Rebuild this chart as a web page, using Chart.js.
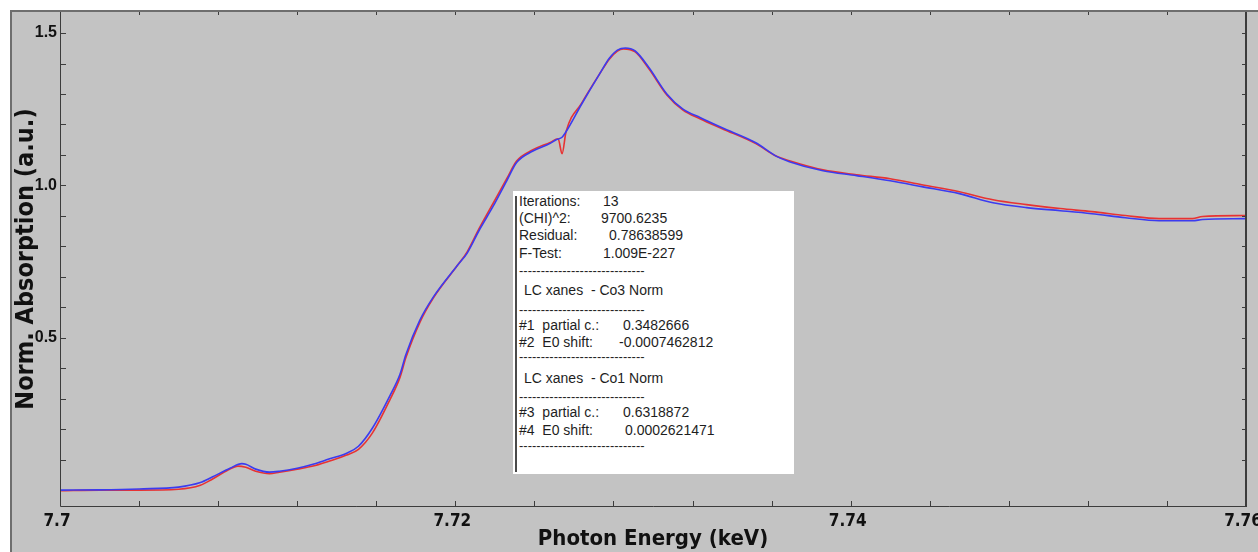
<!DOCTYPE html>
<html>
<head>
<meta charset="utf-8">
<title>XANES linear combination fit</title>
<script src="https://cdn.jsdelivr.net/npm/chart.js@4.4.0/dist/chart.umd.min.js"></script>
<style>
  html, body { margin: 0; padding: 0; background: #fff; }
  #wrap { position: relative; width: 1258px; height: 552px; overflow: hidden; }
  #fitBox {
    position: absolute; left: 513px; top: 191px; width: 281px; height: 283px;
    background: #fff; color: #1e1e1e;
    font: 14px 'Liberation Sans', Arial, sans-serif;
  }
  #fitBox .bar { position: absolute; left: 2px; top: 5px; width: 2px; height: 276px; background: #4a4a4a; }
  #fitBox .ln { position: absolute; left: 6px; white-space: pre; line-height: 15px; }
  #fitBox .v { position: absolute; white-space: pre; line-height: 15px; }
  #fitBox .dash { font-size: 13px; }
</style>
</head>
<body>
<div id="wrap">
  <canvas id="xanesChart" width="1258" height="552"></canvas>
  <div id="fitBox">
    <div class="bar"></div>
    <div class="ln" style="top:3px">Iterations:</div><div class="v" style="top:3px;left:90px">13</div>
    <div class="ln" style="top:20px">(CHI)^2:</div><div class="v" style="top:20px;left:88px">9700.6235</div>
    <div class="ln" style="top:37px">Residual:</div><div class="v" style="top:37px;left:96px">0.78638599</div>
    <div class="ln" style="top:55px">F-Test:</div><div class="v" style="top:55px;left:90px">1.009E-227</div>
    <div class="ln dash" style="top:72px">-----------------------------</div>
    <div class="ln" style="top:92px;left:11px">LC xanes  - Co3 Norm</div>
    <div class="ln dash" style="top:111px">-----------------------------</div>
    <div class="ln" style="top:127px">#1  partial c.:</div><div class="v" style="top:127px;left:110px">0.3482666</div>
    <div class="ln" style="top:144px">#2  E0 shift:</div><div class="v" style="top:144px;left:106px">-0.0007462812</div>
    <div class="ln dash" style="top:158px">-----------------------------</div>
    <div class="ln" style="top:180px;left:11px">LC xanes  - Co1 Norm</div>
    <div class="ln dash" style="top:198px">-----------------------------</div>
    <div class="ln" style="top:214px">#3  partial c.:</div><div class="v" style="top:214px;left:110px">0.6318872</div>
    <div class="ln" style="top:232px">#4  E0 shift:</div><div class="v" style="top:232px;left:112px">0.0002621471</div>
    <div class="ln dash" style="top:247px">-----------------------------</div>
  </div>
</div>
<script>
(function () {
  "use strict";

  /* ── Data ── */
  const fitEnergy = [7.7000, 7.7020, 7.7040, 7.7060, 7.7071, 7.7077, 7.7086, 7.7092, 7.7094, 7.7099,
    7.7106, 7.7111, 7.7120, 7.7128, 7.7136, 7.7145, 7.7151, 7.7158, 7.7167, 7.7172,
    7.7175, 7.7182, 7.7189, 7.7201, 7.7206, 7.7212, 7.7219, 7.7226, 7.7231, 7.7239,
    7.7248, 7.7251, 7.7254, 7.7256, 7.7264, 7.7273, 7.7278, 7.7282, 7.7286, 7.7291,
    7.7298, 7.7307, 7.7315, 7.7324, 7.7335, 7.7352, 7.7362, 7.7369, 7.7386, 7.7403,
    7.7420, 7.7436, 7.7455, 7.7472, 7.7489, 7.7506, 7.7522, 7.7539, 7.7556, 7.7573,
    7.7578, 7.7600];
  const fitAbs = [0.000, 0.001, 0.004, 0.010, 0.025, 0.043, 0.072, 0.087, 0.085, 0.069,
    0.059, 0.062, 0.072, 0.085, 0.102, 0.121, 0.144, 0.203, 0.311, 0.380,
    0.445, 0.557, 0.635, 0.737, 0.778, 0.852, 0.930, 1.015, 1.075, 1.112,
    1.138, 1.150, 1.158, 1.176, 1.268, 1.366, 1.418, 1.444, 1.451, 1.441,
    1.386, 1.300, 1.251, 1.222, 1.189, 1.140, 1.097, 1.078, 1.048, 1.032,
    1.015, 0.996, 0.973, 0.943, 0.927, 0.917, 0.907, 0.894, 0.884, 0.884,
    0.888, 0.891];

  const dataEnergy = [7.7000, 7.7020, 7.7040, 7.7060, 7.7071, 7.7077, 7.7085, 7.7090, 7.7094, 7.7099,
    7.7106, 7.7111, 7.7120, 7.7128, 7.7136, 7.7145, 7.7151, 7.7158, 7.7167, 7.7172,
    7.7175, 7.7182, 7.7189, 7.7201, 7.7206, 7.7212, 7.7219, 7.7226, 7.7231, 7.7239,
    7.7248, 7.7252, 7.7254, 7.7256, 7.7264, 7.7273, 7.7278, 7.7282, 7.7285, 7.7291,
    7.7298, 7.7307, 7.7315, 7.7324, 7.7335, 7.7352, 7.7362, 7.7369, 7.7386, 7.7403,
    7.7420, 7.7436, 7.7455, 7.7472, 7.7489, 7.7506, 7.7522, 7.7539, 7.7556, 7.7573,
    7.7578, 7.7600];
  const dataAbs = [-0.002, 0.000, 0.000, 0.003, 0.016, 0.036, 0.066, 0.079, 0.075, 0.062,
    0.054, 0.059, 0.069, 0.079, 0.095, 0.115, 0.134, 0.187, 0.298, 0.370,
    0.435, 0.550, 0.632, 0.737, 0.782, 0.858, 0.940, 1.022, 1.080, 1.116,
    1.141, 1.153, 1.104, 1.176, 1.271, 1.366, 1.415, 1.441, 1.448, 1.438,
    1.382, 1.297, 1.248, 1.218, 1.186, 1.137, 1.097, 1.081, 1.051, 1.035,
    1.022, 1.002, 0.979, 0.953, 0.937, 0.924, 0.914, 0.901, 0.891, 0.891,
    0.898, 0.901];

  const xRange = [7.7, 7.76];
  const xStep = 0.004;       // minor tick spacing
  const xLabelStep = 0.02;   // labelled ticks
  const yRange = [-0.052, 1.569];
  const yStep = 0.1;
  const yLabelStep = 0.5;

  function toPoints(xs, ys) { return xs.map((x, i) => ({ x: x, y: ys[i] })); }
  function isMultiple(v, step) { return Math.abs(v / step - Math.round(v / step)) < 1e-6; }

  const narrowBold = "'Liberation Sans Narrow', 'DejaVu Sans Condensed', Arial, sans-serif";

  /* ── Panel frame, axes and inward tick marks ── */
  const framePlugin = {
    id: 'frame',
    beforeDraw(chart) {
      const ctx = chart.ctx;
      ctx.save();
      ctx.fillStyle = '#ffffff';
      ctx.fillRect(0, 0, chart.width, chart.height);
      ctx.fillStyle = '#c3c3c3';
      ctx.fillRect(10, 10, chart.width - 10, chart.height - 10);
      ctx.fillStyle = '#6e6e6e';
      ctx.fillRect(10, 10, chart.width - 10, 2);
      ctx.fillRect(10, 10, 2, chart.height - 10);
      ctx.restore();
    },
    afterDatasetsDraw(chart) {
      const { ctx, chartArea: a, scales: { x, y } } = chart;
      ctx.save();
      ctx.strokeStyle = '#3c3c3c';
      ctx.lineWidth = 1;
      ctx.beginPath();
      ctx.moveTo(a.left + 0.5, a.top); ctx.lineTo(a.left + 0.5, a.bottom + 0.5);
      ctx.lineTo(a.right, a.bottom + 0.5);
      ctx.stroke();
      ctx.lineWidth = 2;
      ctx.beginPath();
      ctx.moveTo(a.right, a.top); ctx.lineTo(a.right, a.bottom + 1);
      ctx.stroke();

      ctx.lineWidth = 1;
      ctx.beginPath();
      x.ticks.forEach(t => {
        if (t.value <= xRange[0] + 1e-9 || t.value >= xRange[1] - 1e-9) return;
        const px = Math.round(x.getPixelForValue(t.value)) + 0.5;
        ctx.moveTo(px, a.bottom); ctx.lineTo(px, a.bottom - 5);
        ctx.moveTo(px, a.top); ctx.lineTo(px, a.top + 3);
      });
      y.ticks.forEach(t => {
        if (!isMultiple(t.value, yStep) || Math.abs(t.value) < 1e-9) return;
        const py = Math.round(y.getPixelForValue(t.value)) + 0.5;
        ctx.moveTo(a.left, py); ctx.lineTo(a.left + 6, py);
        ctx.moveTo(a.right, py); ctx.lineTo(a.right - 4, py);
      });
      ctx.stroke();
      ctx.restore();
    }
  };

  new Chart(document.getElementById('xanesChart'), {
    type: 'line',
    data: {
      datasets: [
        { label: 'Fit', data: toPoints(fitEnergy, fitAbs), borderColor: '#3b3bf0', borderWidth: 1.6,
          pointRadius: 0, fill: false, cubicInterpolationMode: 'monotone' },
        { label: 'Data', data: toPoints(dataEnergy, dataAbs), borderColor: '#e83232', borderWidth: 1.6,
          pointRadius: 0, fill: false, cubicInterpolationMode: 'monotone' }
      ]
    },
    options: {
      responsive: false, animation: false,
      layout: { padding: { left: 0, right: 12, top: 12, bottom: 0 } },
      plugins: { legend: { display: false }, tooltip: { enabled: false } },
      scales: {
        x: {
          type: 'linear', min: xRange[0], max: xRange[1],
          grid: { display: false, drawTicks: false }, border: { display: false },
          ticks: {
            stepSize: xStep, autoSkip: false, maxRotation: 0, padding: 5, labelOffset: -3, color: '#111',
            font: { family: narrowBold, size: 17, weight: 'bold' },
            callback: v => isMultiple(v, xLabelStep) ? String(+v.toFixed(2)) : ''
          },
          title: {
            display: true, text: 'Photon Energy (keV)', color: '#111',
            font: { family: narrowBold, size: 22, weight: 'bold', lineHeight: 1.1 },
            padding: { top: 0, bottom: 1 }
          },
          afterFit: s => { s.height = 46; s.paddingLeft = 0; s.paddingRight = 0; }
        },
        y: {
          type: 'linear', min: yRange[0], max: yRange[1],
          grid: { display: false, drawTicks: false }, border: { display: false },
          ticks: {
            stepSize: yStep, autoSkip: false, padding: 3, color: '#111',
            font: { family: "'Liberation Sans', Arial, sans-serif", size: 16, weight: 'bold' },
            callback: v => (v > 0.01 && isMultiple(v, yLabelStep)) ? v.toFixed(1) : ''
          },
          title: {
            display: true, text: 'Norm. Absorption (a.u.)', color: '#111',
            font: { family: narrowBold, size: 25, weight: 'bold', lineHeight: 1.2 },
            padding: { top: 11, bottom: 0 }
          },
          afterFit: s => { s.width = 60; s.paddingTop = 0; s.paddingBottom = 0; }
        }
      }
    },
    plugins: [framePlugin]
  });
})();
</script>
</body>
</html>
